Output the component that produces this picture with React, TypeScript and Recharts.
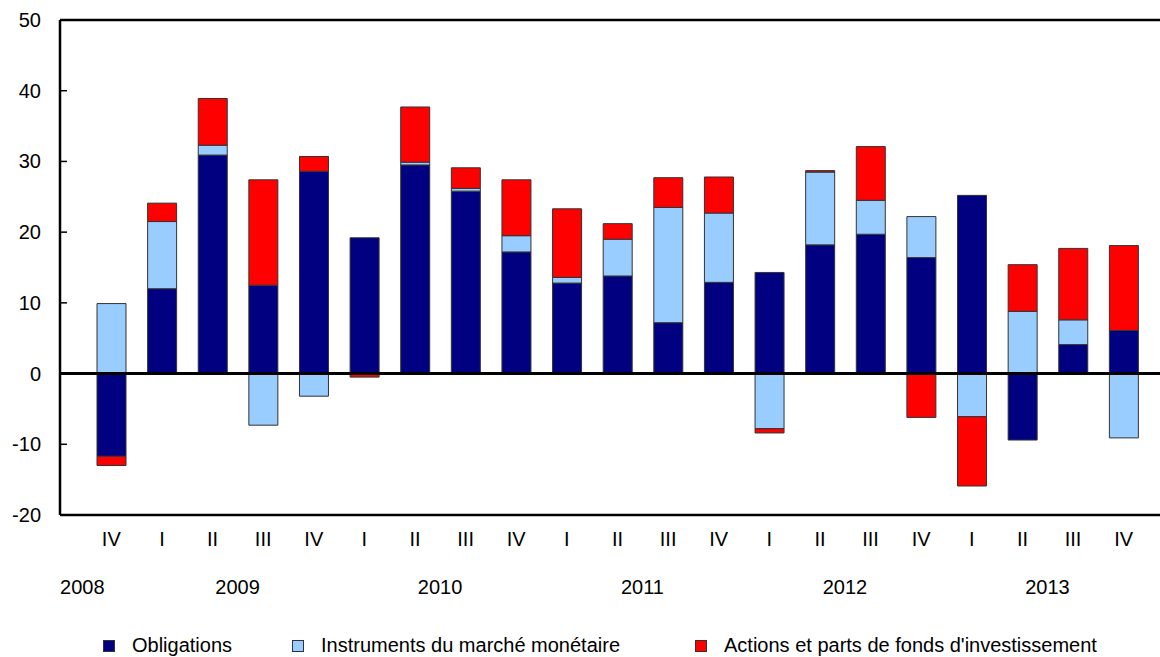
import { BarChart, Bar, XAxis, YAxis, ReferenceLine } from 'recharts';

const quarters = ['IV', 'I', 'II', 'III', 'IV', 'I', 'II', 'III', 'IV', 'I', 'II', 'III', 'IV', 'I', 'II', 'III', 'IV', 'I', 'II', 'III', 'IV'];
const years = ['2008', '', '2009', '', '', '', '2010', '', '', '', '2011', '', '', '', '2012', '', '', '', '2013', '', ''];

const obligations = [-11.7, 12.0, 30.9, 12.5, 28.6, 19.2, 29.5, 25.8, 17.2, 12.8, 13.8, 7.2, 12.9, 14.3, 18.2, 19.7, 16.4, 25.2, -9.4, 4.1, 6.1];
const instruments = [9.9, 9.5, 1.4, -7.3, -3.2, 0, 0.4, 0.4, 2.3, 0.8, 5.2, 16.3, 9.8, -7.8, 10.3, 4.8, 5.8, -6.1, 8.8, 3.5, -9.1];
const actions = [-1.3, 2.6, 6.6, 14.9, 2.1, -0.5, 7.8, 2.9, 7.9, 9.7, 2.2, 4.2, 5.1, -0.6, 0.2, 7.6, -6.2, -9.8, 6.6, 10.1, 12.0];

const yTicks = [-20, -10, 0, 10, 20, 30, 40, 50];

const data = quarters.map((q, i) => ({
  key: i,
  quarter: q,
  year: years[i],
  obligations: obligations[i],
  instruments: instruments[i],
  actions: actions[i],
}));

const series = [
  { key: 'obligations', name: 'Obligations', color: '#000080' },
  { key: 'instruments', name: 'Instruments du marché monétaire', color: '#99CCFF' },
  { key: 'actions', name: "Actions et parts de fonds d'investissement", color: '#FF0000' },
];

const FONT = '"Liberation Sans", Arial, sans-serif';

function QuarterTick(props: any) {
  const { x, y, payload } = props;
  const d = data[payload.index];
  // year label sits between II and III of its year; 2008 sits left of its only bar
  const yearDx = payload.index === 0 ? -29 : 25;
  return (
    <g>
      <text x={x} y={y + 31} textAnchor="middle" fontSize={20} fontFamily={FONT} fill="#000">
        {d.quarter}
      </text>
      {d.year && (
        <text x={x + yearDx} y={y + 79} textAnchor="middle" fontSize={20} fontFamily={FONT} fill="#000">
          {d.year}
        </text>
      )}
    </g>
  );
}

function ValueTick(props: any) {
  const { x, y, payload } = props;
  return (
    <g>
      <text x={x - 19} y={y + 7} textAnchor="end" fontSize={20} fontFamily={FONT} fill="#000">
        {payload.value}
      </text>
      <line x1={x} y1={y} x2={x + 7} y2={y} stroke="#000" strokeWidth={1.5} />
    </g>
  );
}

const legendLeft = [103, 292, 695];

function LegendBox() {
  return (
    <div style={{ position: 'absolute', left: 0, top: 634, width: 1160, height: 24, fontFamily: FONT, fontSize: 20 }}>
      {series.map((s, i) => (
        <div key={s.key} style={{ position: 'absolute', left: legendLeft[i], top: 0, display: 'flex', alignItems: 'center', whiteSpace: 'nowrap' }}>
          <span style={{ display: 'inline-block', width: 10, height: 10, background: s.color, border: '1px solid #333', marginRight: 17 }} />
          <span>{s.name}</span>
        </div>
      ))}
    </div>
  );
}

export default function App() {
  return (
    <div style={{ position: 'absolute', left: 0, top: 0, width: 1160, height: 657, background: '#fff' }}>
      <BarChart
        width={1160}
        height={657}
        data={data}
        stackOffset="sign"
        margin={{ top: 20, right: 0, bottom: 0, left: 0 }}
      >
        <XAxis
          dataKey="key"
          type="category"
          axisLine={{ stroke: '#000', strokeWidth: 2.5 }}
          tickLine={false}
          tickSize={0}
          tickMargin={0}
          interval={0}
          height={142}
          padding={{ left: 26, right: 11 }}
          tick={<QuarterTick />}
        />
        <YAxis
          domain={[-20, 50]}
          ticks={yTicks}
          width={60}
          axisLine={{ stroke: '#000', strokeWidth: 2.5 }}
          tickLine={false}
          tickSize={0}
          tickMargin={0}
          interval={0}
          tick={<ValueTick />}
        />
        <ReferenceLine y={50} stroke="#000" strokeWidth={2.5} />
        <ReferenceLine y={0} stroke="#000" strokeWidth={3} />
        {series.map((s) => (
          <Bar
            key={s.key}
            dataKey={s.key}
            name={s.name}
            stackId="a"
            fill={s.color}
            stroke="#333"
            strokeWidth={1}
            barSize={29}
            isAnimationActive={false}
          />
        ))}
      </BarChart>
      <LegendBox />
    </div>
  );
}
